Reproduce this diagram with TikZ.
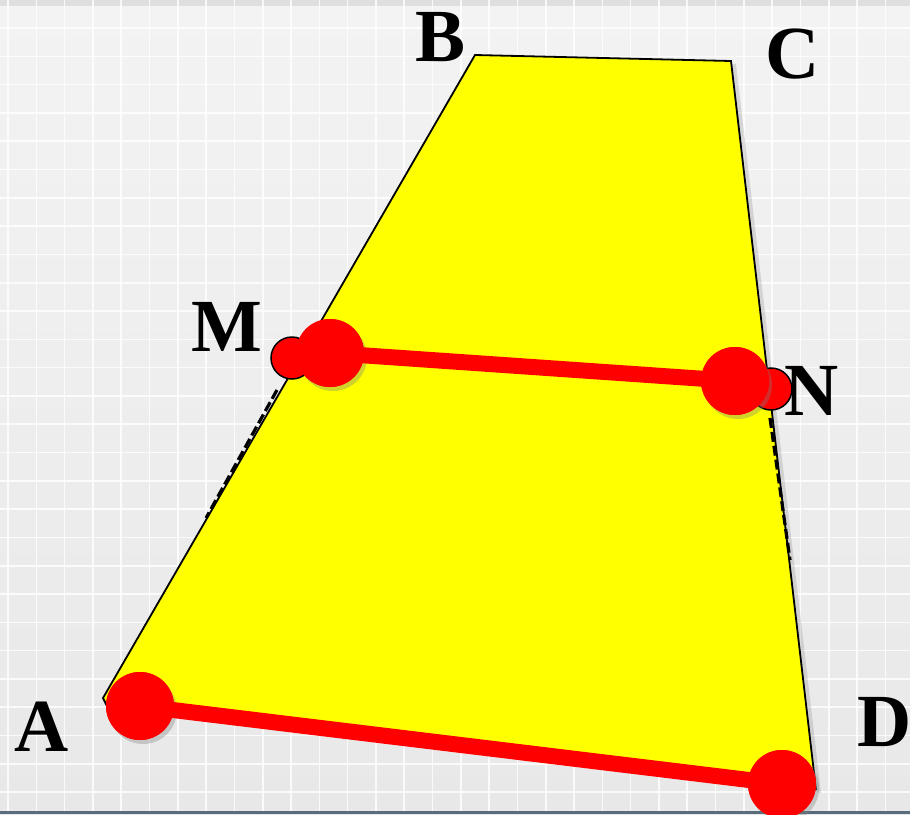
\documentclass[tikz,border=0pt]{standalone}
\usepackage{fontspec}
\setmainfont{Liberation Serif}
\usetikzlibrary{shadows}
\definecolor{bggray}{HTML}{E8E8E8}
\definecolor{bgtop}{HTML}{F3F3F3}
\definecolor{figyellow}{HTML}{FFFF00}
\definecolor{ptred}{HTML}{FF0000}
\definecolor{stripblue}{HTML}{5A6B7C}
\tikzset{
  lbl/.style={font=\fontsize{75}{75}\selectfont\bfseries, text=black, inner sep=0pt},
  bigdot/.style={circle, fill=ptred, minimum size=68pt, inner sep=0pt,
    drop shadow={shadow xshift=3pt, shadow yshift=-4pt, opacity=0.35}},
  smalldot/.style={circle, fill=ptred, draw=black, line width=1.5pt, minimum size=42pt, inner sep=0pt},
  redseg/.style={ptred, line width=16pt},
  edge/.style={black, line width=1.8pt},
  dashedge/.style={black, line width=3.2pt, dash pattern=on 10pt off 4pt},
  gridline/.style={white, line width=1.6pt, opacity=0.8}
}
\begin{document}
\begin{tikzpicture}[x=1pt,y=-1pt]
\useasboundingbox (0,0) rectangle (910,814);
% background
\fill[top color=bgtop, bottom color=bggray] (0,0) rectangle (910,814);
\fill[black, opacity=0.08] (0,0) rectangle (910,6);
\foreach \x in {8,36.3,...,910} \draw[gridline] (\x,0) -- (\x,814);
\foreach \y in {28,56.3,...,814} \draw[gridline] (0,\y) -- (910,\y);
\fill[stripblue] (0,811) rectangle (910,814);
% vertices
\coordinate (A) at (103,698);
\coordinate (A2) at (107,706);
\coordinate (B) at (475,55);
\coordinate (C) at (731,61);
\coordinate (D) at (816,790);
% trapezoid
\fill[figyellow, drop shadow={shadow xshift=5pt, shadow yshift=-3pt, opacity=0.25}]
  (A) -- (B) -- (C) -- (D) -- (A2) -- cycle;
\draw[edge] (A2) -- (A) -- (B) -- (C) -- (D);
\coordinate (l1) at (277,390);
\coordinate (l2) at (206,518);
\coordinate (r1) at (770,418);
\coordinate (r2) at (790,560);
\draw[dashedge] (l1) -- (l2);
\draw[dashedge] (r1) -- (r2);
% red points
\node[smalldot] (m0) at (292,358) {};
\node[smalldot] (n0) at (771,389) {};
\node[bigdot] (m1) at (330,353) {};
\node[bigdot] (n1) at (735,381) {};
\node[bigdot] (a1) at (140,706) {};
\node[bigdot] (d1) at (782,784) {};
\draw[redseg] (m1.center) -- (n1.center);
\draw[redseg] (a1.center) -- (d1.center);
\fill[ptred] (m1) circle (34pt) (n1) circle (34pt) (a1) circle (34pt) (d1) circle (34pt);
% labels
\node[lbl] (lB) at (441,37) {B};
\node[lbl] (lC) at (793,54) {C};
\node[lbl] (lM) at (227,327) {M};
\node[lbl] (lN) at (812,391) {N};
\node[lbl] (lA) at (42,727) {A};
\node[lbl, anchor=west] (lD) at (857,722) {D};
\end{tikzpicture}
\end{document}
